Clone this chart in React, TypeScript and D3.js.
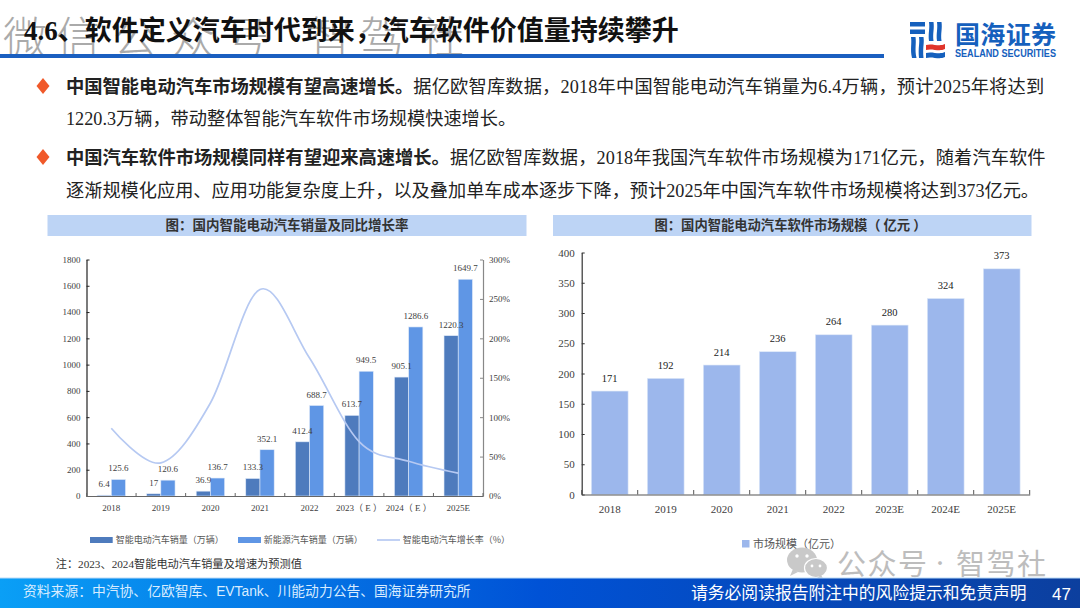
import { useRef, useEffect } from "react";
import * as d3 from "d3";

const YEARS_LEFT = ["2018", "2019", "2020", "2021", "2022", "2023（ E ）", "2024（ E ）", "2025E"];
const SMART_EV = [6.4, 17, 36.9, 133.3, 412.4, 613.7, 905.1, 1220.3];
const NEV = [125.6, 120.6, 136.7, 352.1, 688.7, 949.5, 1286.6, 1649.7];
const GROWTH = [86, 42, 118, 262, 175, 69, 44, 29];
const LEFT_TICKS = [0, 200, 400, 600, 800, 1000, 1200, 1400, 1600, 1800];
const RIGHT_TICKS = [0, 50, 100, 150, 200, 250, 300];

const YEARS_RIGHT = ["2018", "2019", "2020", "2021", "2022", "2023E", "2024E", "2025E"];
const SOFTWARE = [171, 192, 214, 236, 264, 280, 324, 373];
const SOFTWARE_TICKS = [0, 50, 100, 150, 200, 250, 300, 350, 400];

const SERIF = '"Liberation Serif", "Noto Sans CJK SC", serif';
const SANS = '"Noto Sans CJK SC", sans-serif';
const ARIAL = '"Liberation Sans", "Noto Sans CJK SC", sans-serif';

const DARK = "#4e7bbd";
const LIGHT = "#5f96e5";
const LINE = "#b6c9f2";
const SOFT = "#9cb7ec";
const BAND = "#bdd4f5";
const TEXT = "#404040";

const App = () => {
  const leftRef = useRef<SVGGElement>(null);
  const rightRef = useRef<SVGGElement>(null);

  useEffect(() => {
    // left chart
    const g = d3.select(leftRef.current!);
    g.selectAll("*").remove();
    const x = d3.scaleBand<string>().domain(YEARS_LEFT).range([86.5, 483]).paddingInner(0.427).paddingOuter(0.2135);
    const y = d3.scaleLinear([0, 1800], [496, 259.5]);
    const yr = d3.scaleLinear([0, 300], [496, 259.5]);
    const bw = x.bandwidth() / 2;

    const styleAxis = (a: any, size: number, color: string) => {
      a.selectAll("text").attr("font-family", SERIF).attr("font-size", size).attr("fill", TEXT);
      a.selectAll("line").attr("stroke", color);
      a.select(".domain").attr("stroke", color).attr("stroke-width", 1.2);
    };

    const series = [
      { values: SMART_EV, color: DARK, dx: 0 },
      { values: NEV, color: LIGHT, dx: bw },
    ];
    series.forEach((s) => {
      g.append("g")
        .selectAll("rect")
        .data(s.values)
        .join("rect")
        .attr("x", (_d, i) => x(YEARS_LEFT[i])! + s.dx)
        .attr("y", (d) => y(d))
        .attr("width", bw)
        .attr("height", (d) => y(0) - y(d))
        .attr("fill", s.color)
        .attr("stroke", "#dfe9f8")
        .attr("stroke-width", 0.6);
    });

    const line = d3
      .line<number>()
      .x((_d, i) => x(YEARS_LEFT[i])! + bw)
      .y((d) => yr(d))
      .curve(d3.curveCatmullRom.alpha(0));
    g.append("path").attr("d", line(GROWTH)).attr("fill", "none").attr("stroke", LINE).attr("stroke-width", 1.7);

    series.forEach((s) => {
      g.append("g")
        .selectAll("text")
        .data(s.values)
        .join("text")
        .attr("x", (_d, i) => x(YEARS_LEFT[i])! + s.dx + bw / 2)
        .attr("y", (d) => y(d) - 8)
        .attr("text-anchor", "middle")
        .attr("font-family", SERIF)
        .attr("font-size", 9)
        .attr("fill", TEXT)
        .text((d) => d);
    });

    const ax = g.append("g").attr("transform", "translate(86.5,0)").call(
      d3.axisLeft(y).tickValues(LEFT_TICKS).tickSizeInner(-3).tickSizeOuter(0).tickPadding(6).tickFormat((d) => String(d))
    );
    styleAxis(ax, 9, "#222");
    const ar = g.append("g").attr("transform", "translate(483,0)").call(
      d3.axisRight(yr).tickValues(RIGHT_TICKS).tickSizeInner(-3).tickSizeOuter(0).tickPadding(6).tickFormat((d) => `${d}%`)
    );
    styleAxis(ar, 9, "#888");
    const ab = g.append("g").attr("transform", "translate(0,496)").call(d3.axisBottom(x).tickSize(0).tickPadding(8.5));
    styleAxis(ab, 9, "#666");
    g.append("g")
      .selectAll("line")
      .data(d3.range(YEARS_LEFT.length + 1))
      .join("line")
      .attr("x1", (i) => 86.5 + i * x.step())
      .attr("x2", (i) => 86.5 + i * x.step())
      .attr("y1", 496)
      .attr("y2", 493)
      .attr("stroke", "#666");

    // right chart
    const h = d3.select(rightRef.current!);
    h.selectAll("*").remove();
    const x2 = d3.scaleBand<string>().domain(YEARS_RIGHT).range([581.7, 1029.7]).paddingInner(0.343).paddingOuter(0.1715);
    const y2 = d3.scaleLinear([0, 400], [494.5, 252.5]);
    h.append("g")
      .selectAll("rect")
      .data(SOFTWARE)
      .join("rect")
      .attr("x", (_d, i) => x2(YEARS_RIGHT[i])!)
      .attr("y", (d) => y2(d))
      .attr("width", x2.bandwidth())
      .attr("height", (d) => y2(0) - y2(d))
      .attr("fill", SOFT)
      .attr("stroke", "#dfe9f8")
      .attr("stroke-width", 0.6);
    h.append("g")
      .selectAll("text")
      .data(SOFTWARE)
      .join("text")
      .attr("x", (_d, i) => x2(YEARS_RIGHT[i])! + x2.bandwidth() / 2)
      .attr("y", (d) => y2(d) - 9.5)
      .attr("text-anchor", "middle")
      .attr("font-family", SERIF)
      .attr("font-size", 10.5)
      .attr("fill", "#222")
      .text((d) => d);
    const ay2 = h.append("g").attr("transform", "translate(581.7,0)").call(
      d3.axisLeft(y2).tickValues(SOFTWARE_TICKS).tickSizeInner(-3).tickSizeOuter(0).tickPadding(7).tickFormat((d) => String(d))
    );
    styleAxis(ay2, 11, "#333");
    const ab2 = h.append("g").attr("transform", "translate(0,494.5)").call(d3.axisBottom(x2).tickSize(0).tickPadding(10.5));
    styleAxis(ab2, 11, "#555");
    h.append("g")
      .selectAll("line")
      .data(d3.range(YEARS_RIGHT.length + 1))
      .join("line")
      .attr("x1", (i) => 581.7 + i * x2.step())
      .attr("x2", (i) => 581.7 + i * x2.step())
      .attr("y1", 494.5)
      .attr("y2", 490)
      .attr("stroke", "#555");
  }, []);

  return (
    <svg width={1080} height={608} style={{ position: "fixed", left: 0, top: 0, background: "#fff" }}>
      <defs>
        <linearGradient id="foot" x1="0" y1="0" x2="1" y2="0">
          <stop offset="0" stopColor="#0a9ff6" />
          <stop offset="0.5" stopColor="#0052d6" />
          <stop offset="1" stopColor="#0c3f9e" />
        </linearGradient>
      </defs>

      {/* watermark */}
      <text x="3 56 113 171 225 308 360 420" y={54} fontFamily={SANS} fontSize={44} fontWeight={300} fill="#aaaaaa">
        微信公众号智驾社
      </text>

      {/* header */}
      <rect x={0} y={54} width={884} height={4} fill="#1a5fc0" />
      <text x={24} y={40} fontFamily={SERIF} fontSize={27} fontWeight={700} fill="#111">
        4.6、软件定义汽车时代到来，汽车软件价值量持续攀升
      </text>

      {/* logo */}
      <g fill="#1560bd">
        <rect x={910} y={22} width={15} height={4.5} />
        <rect x={910} y={29.5} width={15} height={4.5} />
        <path d="M911 37h4.5c1 7-1 12 1 21h-4.5c-2-9 0-14-1-21zM919 37h4.5c1 6-1 10 0 21h-4.5c-1-11 1-15 0-21z" />
        <path d="M929 22h4.5c1 7-1 11 0 19h-4.5c-1-8 1-12 0-19zM937 22h4.5c1 7-1 11 0 19h-4.5c-1-8 1-12 0-19z" />
        <path d="M926 53c6-2 13 2 19-1v5c-6 3-13-1-19 1z" />
      </g>
      <path d="M926 45c6-2 13 2 19-1v5c-6 3-13-1-19 1z" fill="#e0352b" />
      <text x={955} y={44} fontFamily={SANS} fontSize={25} fontWeight={700} fill="#1560bd" textLength={101}>
        国海证券
      </text>
      <text x={955} y={57} fontFamily={ARIAL} fontSize={10} fontWeight={700} fill="#1560bd" textLength={101} lengthAdjust="spacingAndGlyphs">
        SEALAND SECURITIES
      </text>

      {/* bullets */}
      <g fontFamily={SERIF} fontSize={18.2} fill="#222">
        <path d="M43 78l6.5 8-6.5 8-6.5-8z" fill="#f0592a" />
        <path d="M43 149l6.5 8-6.5 8-6.5-8z" fill="#f0592a" />
        <text x={66} y={92.5}>
          <tspan fontFamily={SANS} fontWeight={700} fontSize={18.3}>中国智能电动汽车市场规模有望高速增长。</tspan>
          <tspan letterSpacing={0.2}>据亿欧智库数据，2018年中国智能电动汽车销量为6.4万辆，预计2025年将达到</tspan>
        </text>
        <text x={66} y={124.5}>1220.3万辆，带动整体智能汽车软件市场规模快速增长。</text>
        <text x={66} y={163.5}>
          <tspan fontFamily={SANS} fontWeight={700} fontSize={18.3}>中国汽车软件市场规模同样有望迎来高速增长。</tspan>
          <tspan letterSpacing={0.13}>据亿欧智库数据，2018年我国汽车软件市场规模为171亿元，随着汽车软件</tspan>
        </text>
        <text x={66} y={196.5}>逐渐规模化应用、应用功能复杂度上升，以及叠加单车成本逐步下降，预计2025年中国汽车软件市场规模将达到373亿元。</text>
      </g>

      {/* chart titles */}
      <rect x={47.5} y={215} width={479} height={21} fill={BAND} />
      <rect x={553} y={215} width={478.5} height={21} fill={BAND} />
      <text x={287} y={230} textAnchor="middle" fontFamily={SANS} fontSize={13.5} fontWeight={700} fill="#333">
        图：国内智能电动汽车销量及同比增长率
      </text>
      <text x={790.5} y={230} textAnchor="middle" fontFamily={SANS} fontSize={13.3} fontWeight={700} fill="#333">
        图：国内智能电动汽车软件市场规模（ 亿元 ）
      </text>

      <g ref={leftRef} />
      <g ref={rightRef} />

      {/* legends */}
      <g fontFamily={SANS} fontSize={9} fill="#555">
        <rect x={90} y={537} width={22.7} height={6} fill={DARK} />
        <text x={115.7} y={543.2}>智能电动汽车销量（万辆）</text>
        <rect x={238} y={537} width={23} height={6} fill={LIGHT} />
        <text x={263.7} y={543.2}>新能源汽车销量（万辆）</text>
        <line x1={377} x2={400} y1={540} y2={540} stroke={LINE} strokeWidth={1.7} />
        <text x={402.7} y={543.2}>智能电动汽车增长率（%）</text>
      </g>
      <rect x={742} y={540} width={7.5} height={7.5} fill={SOFT} />
      <text x={753} y={548} fontFamily={SANS} fontSize={11} fill="#555">市场规模（亿元）</text>
      <text x={55.7} y={568} fontFamily={SERIF} fontSize={11.2} fill="#333">注：2023、2024智能电动汽车销量及增速为预测值</text>

      {/* bottom watermark */}
      <g fill="#c9c9c9">
        <ellipse cx={802} cy={560} rx={15} ry={12.5} />
        <path d="M793 569l-3 7 8-4z" />
        <ellipse cx={816} cy={568} rx={11.5} ry={9.5} stroke="#fff" strokeWidth={1.2} />
        <path d="M821 575l3 5-7-2z" />
      </g>
      <g fill="#fff">
        <circle cx={797} cy={556} r={1.7} />
        <circle cx={807} cy={556} r={1.7} />
        <circle cx={812} cy={566} r={1.4} />
        <circle cx={820} cy={566} r={1.4} />
      </g>
      <g fontFamily={SANS} fontSize={29} fill="#bdbdbd" letterSpacing={1.5}>
        <text x={837} y={575}>公众号</text>
        <text x={931} y={570} fontSize={18} letterSpacing={0}>·</text>
        <text x={956} y={575}>智驾社</text>
      </g>

      {/* footer */}
      <rect x={0} y={578} width={1080} height={30} fill="url(#foot)" />
      <rect x={0} y={577.5} width={1080} height={1} fill="#bcdcf8" />
      <text x={23} y={596} fontFamily={ARIAL} fontSize={13.8} fill="#d8ecff">资料来源：中汽协、亿欧智库、EVTank、川能动力公告、国海证券研究所</text>
      <text x={691} y={599} fontFamily={SANS} fontSize={16.8} fill="#fff">请务必阅读报告附注中的风险提示和免责声明</text>
      <text x={1052} y={600} fontFamily={ARIAL} fontSize={17} fill="#fff">47</text>
    </svg>
  );
};

export default App;
